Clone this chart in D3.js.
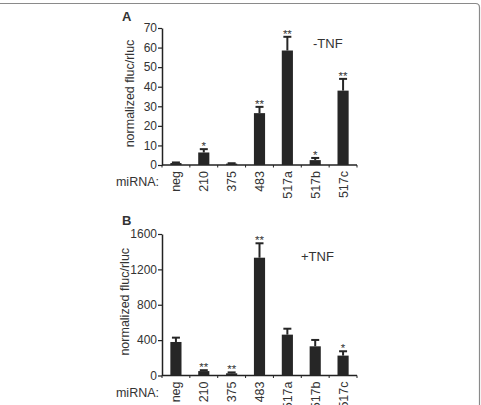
<!DOCTYPE html>
<html>
<head>
<meta charset="utf-8">
<script src="https://cdn.jsdelivr.net/npm/d3@7"></script>
<style>
  body { margin: 0; background: #fff; }
  text { font-family: "Liberation Sans", Arial, sans-serif; fill: #333; }
</style>
</head>
<body>
<svg id="chart" width="481" height="405"></svg>
<script>
// data
var categories = ["neg", "210", "375", "483", "517a", "517b", "517c"];

var valuesA = [1, 6.4, 0.7, 26.5, 58.5, 2.5, 38];
var errTopA = [1.3, 8.1, 0.9, 29.7, 65.5, 3.6, 44];
var starsA = ["", "*", "", "**", "**", "*", "**"];
var ticksA = [0, 10, 20, 30, 40, 50, 60, 70];

var valuesB = [379, 50, 25, 1332, 462, 330, 225];
var errTopB = [428, 60, 35, 1495, 529, 402, 274];
var starsB = ["", "**", "**", "**", "", "", "*"];
var ticksB = [0, 400, 800, 1200, 1600];

var svg = d3.select("#chart");
var barColor = "#262626";

// frame at top/right edge
svg.append("path")
	.attr("d", "M0,3.5 H475.5 Q479.5,3.5 479.5,7.5 V405")
	.attr("fill", "none")
	.attr("stroke", "#8a8a8a")
	.attr("stroke-width", 1.2);

function drawPanel(opt) {
	var g = svg.append("g");

	var x = d3.scaleBand()
		.domain(categories)
		.range([162, 357])
		.paddingInner(0.6)
		.paddingOuter(0.3);

	var y = d3.scaleLinear()
		.domain([0, opt.max])
		.range([opt.y0, opt.y1]);

	// y axis
	var yAxis = g.append("g")
		.attr("transform", "translate(162,0)")
		.call(d3.axisLeft(y).tickValues(opt.ticks).tickFormat(d3.format("d"))
			.tickSize(4).tickPadding(1).tickSizeOuter(0));
	yAxis.select(".domain").attr("stroke", "#222").attr("stroke-width", 1.5);
	yAxis.selectAll(".tick line").attr("stroke", "#222").attr("stroke-width", 1.2);
	yAxis.selectAll(".tick text")
		.style("font-family", "'Liberation Sans', Arial, sans-serif")
		.style("font-size", "12px")
		.attr("fill", "#333");

	// x axis baseline with boundary ticks
	g.append("line")
		.attr("x1", 162).attr("x2", 357)
		.attr("y1", y(0)).attr("y2", y(0))
		.attr("stroke", "#222").attr("stroke-width", 1.5);
	var step = x.step();
	var x0 = x.range()[0];
	g.selectAll(".bt")
		.data(d3.range(categories.length + 1))
		.enter().append("line")
		.attr("x1", function(k) { return x0 + k * step; })
		.attr("x2", function(k) { return x0 + k * step; })
		.attr("y1", y(0))
		.attr("y2", y(0) + 2.5)
		.attr("stroke", "#222").attr("stroke-width", 1);

	// bars
	g.selectAll(".bar")
		.data(opt.values)
		.enter().append("rect")
		.attr("x", function(d, i) { return x(categories[i]); })
		.attr("y", function(d) { return y(d); })
		.attr("width", x.bandwidth())
		.attr("height", function(d) { return y(0) - y(d); })
		.attr("fill", barColor);

	// error bars
	var cx = function(i) { return x(categories[i]) + x.bandwidth() / 2; };
	g.selectAll(".err")
		.data(opt.err)
		.enter().append("line")
		.attr("x1", function(d, i) { return cx(i); })
		.attr("x2", function(d, i) { return cx(i); })
		.attr("y1", function(d, i) { return y(opt.values[i]); })
		.attr("y2", function(d) { return y(d); })
		.attr("stroke", barColor).attr("stroke-width", 2);
	g.selectAll(".cap")
		.data(opt.err)
		.enter().append("line")
		.attr("x1", function(d, i) { return cx(i) - 4; })
		.attr("x2", function(d, i) { return cx(i) + 4; })
		.attr("y1", function(d) { return y(d); })
		.attr("y2", function(d) { return y(d); })
		.attr("stroke", barColor).attr("stroke-width", 2);

	// significance stars
	g.selectAll(".star")
		.data(opt.stars)
		.enter().append("text")
		.attr("x", function(d, i) { return cx(i); })
		.attr("y", function(d, i) { return y(opt.err[i]) + 1; })
		.attr("text-anchor", "middle")
		.style("font-size", "11.5px")
		.text(function(d) { return d; });

	// category labels, rotated
	g.selectAll(".cat")
		.data(categories)
		.enter().append("text")
		.attr("transform", function(d) {
			return "translate(" + (x(d) + x.bandwidth() / 2 + 4.5) + "," + (y(0) + 6) + ") rotate(-90)";
		})
		.attr("text-anchor", "end")
		.style("font-size", "12.5px")
		.text(function(d) { return d; });

	g.append("text")
		.attr("x", 159)
		.attr("y", y(0) + 21)
		.attr("text-anchor", "end")
		.style("font-size", "12.5px")
		.text("miRNA:");

	// y label
	g.append("text")
		.attr("transform", "translate(" + opt.ylabX + "," + ((opt.y0 + opt.y1) / 2 - 3) + ") rotate(-90)")
		.attr("text-anchor", "middle")
		.style("font-size", "12.5px")
		.text("normalized fluc/rluc");

	// panel letter
	g.append("text")
		.attr("x", 122)
		.attr("y", opt.letterY)
		.style("font-size", "13px")
		.style("font-weight", "bold")
		.text(opt.letter);

	// condition label
	g.append("text")
		.attr("x", opt.condX)
		.attr("y", opt.condY)
		.style("font-size", "13px")
		.text(opt.cond);
}

drawPanel({
	values: valuesA, err: errTopA, stars: starsA, ticks: ticksA,
	max: 70, y0: 165, y1: 28, ylabX: 134,
	letter: "A", letterY: 21, cond: "-TNF", condX: 313, condY: 48
});

drawPanel({
	values: valuesB, err: errTopB, stars: starsB, ticks: ticksB,
	max: 1600, y0: 375.5, y1: 234, ylabX: 129,
	letter: "B", letterY: 225, cond: "+TNF", condX: 301, condY: 261
});
</script>
</body>
</html>
